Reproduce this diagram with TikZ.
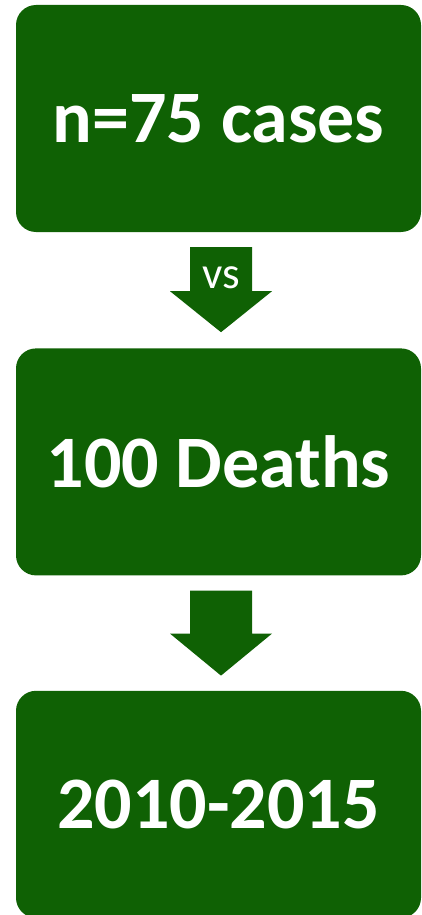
\documentclass[tikz,border=0pt]{standalone}
\usepackage{fontspec}
\setmainfont{Carlito}
\usetikzlibrary{positioning,calc}
\definecolor{boxGreen}{HTML}{0F6104}
\tikzset{
  stepbox/.style={fill=boxGreen, rounded corners=20pt, inner sep=0pt,
    minimum width=405pt, minimum height=227pt, text=white,
    font=\fontsize{74}{88}\selectfont\bfseries},
  blockArrow/.style={fill=boxGreen},
  arrowLabel/.style={text=white, inner sep=0pt, font=\fontsize{45}{54}\selectfont},
}

\begin{document}
\begin{tikzpicture}[x=1pt, y=-1pt, node distance=116pt]
    \useasboundingbox (0,0) rectangle (421,915);
    \node[stepbox] (cases) at (218.5,118.5) {n=75 cases};
    \node[stepbox, below=of cases] (deaths) {100 Deaths};
    \node[stepbox, below=115pt of deaths] (years) {2010-2015};
    % block arrows between the boxes
    \coordinate (vsTop) at ($(cases.south)+(2.5,15)$);
    \coordinate (yrTop) at ($(deaths.south)+(2.5,15)$);
    \fill[blockArrow, shift={(vsTop)}] (-31,0) -- (31,0) -- (31,44) -- (51,44) -- (0,85) -- (-51,44) -- (-31,44) -- cycle;
    \fill[blockArrow, shift={(yrTop)}] (-31,0) -- (31,0) -- (31,43) -- (51,43) -- (0,85) -- (-51,43) -- (-31,43) -- cycle;
    \node[arrowLabel] (vs) at ($(vsTop)+(0,31)$) {vs};
\end{tikzpicture}
\end{document}
